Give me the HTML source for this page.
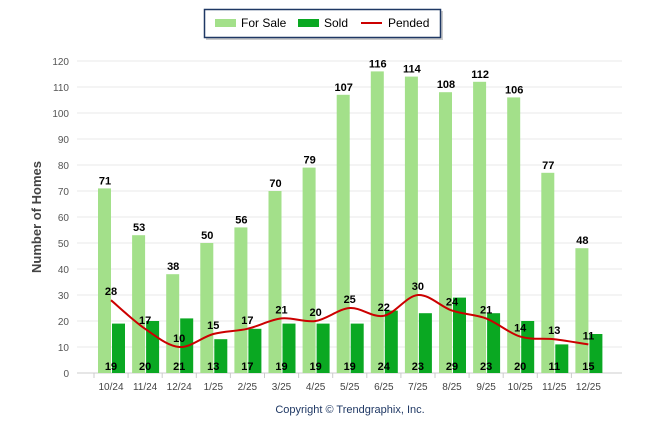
<!DOCTYPE html>
<html><head><meta charset="utf-8"><style>
body{margin:0;background:#fff;font-family:"Liberation Sans",Arial,sans-serif}
svg text{font-family:"Liberation Sans",Arial,sans-serif}
</style></head><body>
<svg id="c" width="646" height="434">
<g>
<rect x="206" y="11" width="237" height="29" fill="#999" opacity="0.5"/>
<rect x="204.5" y="9.5" width="236" height="28" fill="#fff" stroke="#1f3864" stroke-width="1.5"/>
<rect x="215" y="19" width="21" height="8" fill="#a3e08a"/>
<text x="241" y="27" font-size="12" fill="#000">For Sale</text>
<rect x="298" y="19" width="21" height="8" fill="#0aa822"/>
<text x="324" y="27" font-size="12" fill="#000">Sold</text>
<line x1="361" y1="23" x2="382" y2="23" stroke="#c00" stroke-width="2"/>
<text x="388" y="27" font-size="12" fill="#000">Pended</text>
</g>
<text x="0" y="0" transform="translate(41,217) rotate(-90)" text-anchor="middle" font-size="13" font-weight="bold" fill="#444">Number of Homes</text>
<text x="350" y="413" text-anchor="middle" font-size="11" fill="#1f3864">Copyright © Trendgraphix, Inc.</text>
<g id="grid"></g><g id="bars"></g><g id="line"></g><g id="labels"></g>
</svg>
<script>
const categories=["10/24","11/24","12/24","1/25","2/25","3/25","4/25","5/25","6/25","7/25","8/25","9/25","10/25","11/25","12/25"];
const forSale=[71,53,38,50,56,70,79,107,116,114,108,112,106,77,48];
const sold=[19,20,21,13,17,19,19,19,24,23,29,23,20,11,15];
const pended=[28,17,10,15,17,21,20,25,22,30,24,21,14,13,11];
const yTicks=[0,10,20,30,40,50,60,70,80,90,100,110,120];
const NS="http://www.w3.org/2000/svg";
const y=v=>373-v*2.6;
const x=i=>111+i*34.1;
function mk(tag,attrs,parent,txt){const e=document.createElementNS(NS,tag);for(const k in attrs)e.setAttribute(k,attrs[k]);if(txt!==undefined)e.textContent=txt;document.getElementById(parent).appendChild(e);return e;}
yTicks.forEach(t=>{
 const l=mk('line',{x1:77,x2:622,y1:y(t),y2:y(t),stroke:t?'#e8e8e8':'#ccc','stroke-width':1},'grid');
 
 
 const tx=mk('text',{x:69,y:y(t)+4,'text-anchor':'end','font-size':10,fill:'#555'},'grid',t);
 
 
});
categories.forEach((c,i)=>{
 const tk=mk('line',{x1:x(i)-17,x2:x(i)-17,y1:373,y2:378,stroke:'#ccc'},'grid');
 
 
 const tx=mk('text',{x:x(i),y:390,'text-anchor':'middle','font-size':10,fill:'#444'},'grid',c);
 
 
 const b1=mk('rect',{x:x(i)-13,y:y(forSale[i]),width:13,height:forSale[i]*2.6,fill:'#a3e08a'},'bars');
 
 
 const b2=mk('rect',{x:x(i)+1,y:y(sold[i]),width:13,height:sold[i]*2.6,fill:'#0aa822'},'bars');
 
 
 const l1=mk('text',{x:x(i)-6,y:y(forSale[i])-4,'text-anchor':'middle','font-size':11,'font-weight':'bold'},'labels',forSale[i]);
 
 
 const l2=mk('text',{x:x(i),y:370,'text-anchor':'middle','font-size':11,'font-weight':'bold'},'labels',sold[i]);
 
 
 const l3=mk('text',{x:x(i),y:y(pended[i])-5,'text-anchor':'middle','font-size':11,'font-weight':'bold'},'labels',pended[i]);
 
 
});
const pts=pended.map((v,i)=>[x(i),y(v)]);
let d='M'+pts[0][0]+','+pts[0][1];
for(let i=0;i<pts.length-1;i++){
 const p0=pts[i-1]||pts[i],p1=pts[i],p2=pts[i+1],p3=pts[i+2]||p2;
 const c1=[p1[0]+(p2[0]-p0[0])/6,p1[1]+(p2[1]-p0[1])/6];
 const c2=[p2[0]-(p3[0]-p1[0])/6,p2[1]-(p3[1]-p1[1])/6];
 d+=` C${c1[0]},${c1[1]} ${c2[0]},${c2[1]} ${p2[0]},${p2[1]}`;
}
const pl=mk('path',{d:d,fill:'none',stroke:'#c00','stroke-width':2},'line');


</script>
</body></html>
